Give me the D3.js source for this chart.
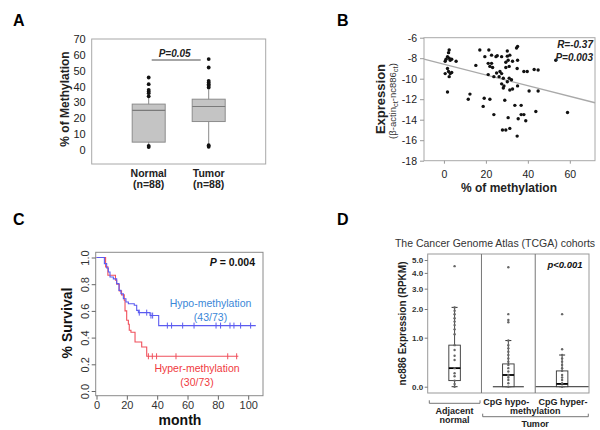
<!DOCTYPE html>
<html>
<head>
<meta charset="utf-8">
<script src="https://cdn.jsdelivr.net/npm/d3@7"></script>
<style>
  body { margin: 0; background: #fff; }
  svg { display: block; font-family: "Liberation Sans", Arial, sans-serif; }
</style>
</head>
<body>
<div id="chart"></div>
<script>
// ---------- data ----------
// A: % methylation boxplots
let groupsA = ['Normal', 'Tumor'];
let nLabelsA = ['(n=88)', '(n=88)'];
let whiskLoA = [3.2, 3.8];
let q1A = [4.9, 17.9];
let medA = [24.9, 27.4];
let q3A = [28.9, 32.0];
let whiskHiA = [33.1, 38.0];
let outliersA = [
  [1.8, 2.6, 33.8, 35.8, 36.9, 37.9, 41.5, 45.7],
  [2.0, 3.0, 39.4, 40.5, 41.5, 42.6, 43.6, 52.0, 57.3]
];
let ticksA = [0, 10, 20, 30, 40, 50, 60, 70];

// B: methylation vs expression
let methylB = [2.5, 2.2, 1.7, 1.0, 2.5, 3.7, 5.8, 0.6, 3.0, 1.7, 2.2, 0.6, 3.0, 3.7, 2.5, 1.7,
  17.1, 21.4, 15.2, 19.5, 22.7, 24.8, 25.4, 27.5, 30.2, 30.2, 31.4, 34.6, 35.1, 30.6, 32.7, 35.1,
  21.1, 22.7, 21.9, 23.2, 29.5, 29.5, 31.1, 26.7, 25.1, 27.5, 21.1, 23.8, 26.3, 28.3, 31.1, 32.2,
  30.2, 27.5, 28.6, 28.3, 31.4, 32.7, 35.1, 38.1, 39.7, 43.0, 44.9, 40.6, 44.9, 34.9, 12.4, 11.6,
  19.2, 21.9, 18.7, 29.0, 33.8, 36.8, 43.8, 23.8, 30.6, 35.4, 36.8, 38.1, 39.0, 27.9, 29.5, 31.4,
  34.9, 53.3, 58.9];
let exprB = [-7.2, -7.46, -7.85, -8.1, -8.0, -8.1, -8.3, -8.3, -8.2, -9.0, -9.3, -9.5, -9.5, -9.4, -9.8, -11.3,
  -7.2, -7.2, -8.7, -7.85, -7.7, -7.85, -7.75, -7.85, -7.3, -7.8, -7.7, -7.0, -6.85, -8.2, -8.3, -8.2,
  -8.5, -8.5, -8.8, -8.9, -8.4, -8.9, -8.8, -9.3, -9.45, -9.5, -9.6, -9.8, -9.8, -9.95, -9.95, -10.1,
  -10.3, -10.5, -10.7, -10.9, -11.1, -11.0, -10.7, -9.3, -9.3, -9.1, -9.15, -11.2, -11.2, -9.0, -11.5, -12.0,
  -11.9, -12.0, -12.7, -12.1, -12.6, -12.6, -13.2, -13.5, -13.8, -13.9, -13.5, -13.5, -14.1, -15.0, -15.0, -14.85,
  -15.6, -8.2, -13.3];
let fitSlopeB = -0.0521;
let fitInterceptB = -8.595;
let xTicksB = [0, 20, 40, 60];
let yTicksB = [-6, -8, -10, -12, -14, -16, -18];

// C: Kaplan-Meier survival
let hypoTimes = [0, 5.2, 6.7, 7.8, 8.9, 11.1, 13.3, 14.8, 16.1, 17.7, 19.4, 21, 24.9, 26.5, 27.6, 35.3, 41];
let hypoSurv = [1, 0.954, 0.921, 0.891, 0.854, 0.84, 0.804, 0.754, 0.729, 0.691, 0.667, 0.654, 0.642, 0.604, 0.587, 0.565, 0.49];
let hypoEnd = 105;
let hypoCensor = [28.2, 33.1, 35.9, 37, 46.7, 49.5, 56.8, 64.3, 78.8, 81.8, 88, 90.6, 95, 101.6];
let hyperTimes = [0, 6, 7.5, 12.5, 13.3, 15, 16.5, 18.3, 18.8, 19.9, 21, 21.6, 22.7, 25.4, 29.8, 33.1];
let hyperSurv = [1, 0.93, 0.867, 0.83, 0.8, 0.75, 0.72, 0.68, 0.6, 0.53, 0.5, 0.455, 0.44, 0.367, 0.33, 0.26];
let hyperEnd = 93.5;
let hyperCensor = [34.2, 36.8, 39.6, 52.4, 86.5, 92.4];
let xTicksC = [0, 20, 40, 60, 80, 100];
let yTicksC = [0, 0.2, 0.4, 0.6, 0.8, 1.0];

// D: TCGA nc886 expression
let groupsD = ['adj', 'hypo', 'hyper'];
let loD = [0, 0, 0];
let q1D = [0.09, 0, 0];
let medD = [0.30, 0.18, 0.04];
let q3D = [0.80, 0.38, 0.25];
let hiD = [2.07, 0.92, 0.565];
let pointsD = [
  [4.5, 2.07, 1.93, 1.79, 1.63, 1.51, 1.39, 1.25, 1.10, 0.80, 0.68, 0.55, 0.46, 0.30, 0.21, 0.16, 0.09, 0.04, 0],
  [4.41, 1.79, 1.57, 1.49, 0.92, 0.80, 0.72, 0.64, 0.565, 0.49, 0.425, 0.36, 0.30, 0.24, 0.18, 0.17, 0.14, 0.10, 0.05, 0],
  [1.79, 0.70, 0.565, 0.49, 0.425, 0.36, 0.30, 0.25, 0.18, 0.14, 0.10, 0.05, 0]
];
let yTicksD = [0, 1, 2, 3, 4, 5];

// ---------- svg ----------
let svg = d3.select('#chart').append('svg')
  .attr('width', 600)
  .attr('height', 430);

svg.append('rect').attr('width', 600).attr('height', 430).attr('fill', '#fff');

function panelLetter(txt, x, y) {
  svg.append('text').attr('x', x).attr('y', y)
    .style('font-size', '16px').style('font-weight', 'bold').text(txt);
}
panelLetter('A', 13, 26);
panelLetter('B', 337, 26);
panelLetter('C', 13, 225);
panelLetter('D', 337, 225);

// ================= Panel A =================
let frameA = {l: 91.7, r: 265.7, t: 39, b: 164};
let xA = d3.scalePoint().domain(groupsA).range([frameA.l, frameA.r]).padding(0.95);
let yA = d3.scaleLinear().domain([-8.9, 70]).range([frameA.b, frameA.t]);

let gA = svg.append('g');
gA.append('rect')
  .attr('x', frameA.l).attr('y', frameA.t)
  .attr('width', frameA.r - frameA.l).attr('height', frameA.b - frameA.t)
  .attr('fill', 'none').attr('stroke', '#a8a8a8').attr('stroke-width', 1);

let yAxisA = gA.append('g')
  .attr('transform', 'translate(' + frameA.l + ',0)')
  .call(d3.axisLeft(yA).tickValues(ticksA).tickSize(0).tickPadding(6));
yAxisA.select('.domain').remove();
yAxisA.selectAll('text').style('font-size', '11px').style('fill', '#222')
  .style('font-family', '"Liberation Sans", Arial, sans-serif');

let boxW = 33;
groupsA.forEach((g, i) => {
  let cx = xA(g);
  // whisker
  gA.append('line').attr('x1', cx).attr('x2', cx)
    .attr('y1', yA(whiskLoA[i])).attr('y2', yA(whiskHiA[i]))
    .attr('stroke', '#8a8a8a').attr('stroke-width', 1);
  gA.append('rect')
    .attr('x', cx - boxW / 2).attr('y', yA(q3A[i]))
    .attr('width', boxW).attr('height', yA(q1A[i]) - yA(q3A[i]))
    .attr('fill', '#c4c4c4').attr('stroke', '#8c8c8c').attr('stroke-width', 1);
  gA.append('line').attr('x1', cx - boxW / 2).attr('x2', cx + boxW / 2)
    .attr('y1', yA(medA[i])).attr('y2', yA(medA[i]))
    .attr('stroke', '#7a7a7a').attr('stroke-width', 1.2);
  gA.selectAll('.outA' + i).data(outliersA[i]).enter().append('circle')
    .attr('cx', cx).attr('cy', d => yA(d)).attr('r', 1.9).attr('fill', '#111');
  gA.append('text').attr('x', cx).attr('y', 177).attr('text-anchor', 'middle')
    .style('font-size', '10.5px').style('font-weight', 'bold').style('fill', '#222').text(g);
  gA.append('text').attr('x', cx).attr('y', 188).attr('text-anchor', 'middle')
    .style('font-size', '10.5px').style('font-weight', 'bold').style('fill', '#222').text(nLabelsA[i]);
});

// significance bar
gA.append('line')
  .attr('x1', xA('Normal') + 3).attr('x2', xA('Tumor') - 8)
  .attr('y1', yA(56.7)).attr('y2', yA(56.7))
  .attr('stroke', '#888').attr('stroke-width', 1.5);
gA.append('text').attr('x', (xA('Normal') + xA('Tumor')) / 2 - 4).attr('y', 56.5)
  .attr('text-anchor', 'middle').style('font-size', '10px').style('font-weight', 'bold')
  .style('font-style', 'italic').style('fill', '#222').text('P=0.05');

gA.append('text')
  .attr('transform', 'translate(69,' + (frameA.t + frameA.b) / 2.05 + ') rotate(-90)')
  .attr('text-anchor', 'middle').style('font-size', '12px').style('font-weight', 'bold')
  .style('fill', '#222').text('% of Methylation');

// ================= Panel B =================
let frameB = {l: 424, r: 595, t: 37.7, b: 160.7};
let xB = d3.scaleLinear().domain([-9.5, 72]).range([frameB.l, frameB.r]);
let yB = d3.scaleLinear().domain([-18, -6]).range([frameB.b, frameB.t]);
let gB = svg.append('g');

gB.append('rect')
  .attr('x', frameB.l).attr('y', frameB.t)
  .attr('width', frameB.r - frameB.l).attr('height', frameB.b - frameB.t)
  .attr('fill', 'none').attr('stroke', '#a8a8a8').attr('stroke-width', 1);

let xAxisB = gB.append('g').attr('transform', 'translate(0,' + frameB.b + ')')
  .call(d3.axisBottom(xB).tickValues(xTicksB).tickSize(3).tickPadding(7));
let yAxisB = gB.append('g').attr('transform', 'translate(' + frameB.l + ',0)')
  .call(d3.axisLeft(yB).tickValues(yTicksB).tickSize(4).tickPadding(3)
    .tickFormat(d => d < 0 ? '-' + Math.abs(d) : d));
[xAxisB, yAxisB].forEach(ax => {
  ax.select('.domain').remove();
  ax.selectAll('line').attr('stroke', '#999');
  ax.selectAll('text').style('font-size', '10.5px').style('fill', '#222')
    .style('font-family', '"Liberation Sans", Arial, sans-serif');
});

gB.append('line')
  .attr('x1', xB(-9.5)).attr('y1', yB(fitInterceptB + fitSlopeB * -9.5))
  .attr('x2', xB(72)).attr('y2', yB(fitInterceptB + fitSlopeB * 72))
  .attr('stroke', '#a9a9a9').attr('stroke-width', 1.3);

gB.selectAll('.ptB').data(methylB).enter().append('circle')
  .attr('cx', d => xB(d)).attr('cy', (d, i) => yB(exprB[i]))
  .attr('r', 1.7).attr('fill', '#111');

gB.append('text').attr('x', 593).attr('y', 48).attr('text-anchor', 'end')
  .style('font-size', '10px').style('font-weight', 'bold').style('font-style', 'italic')
  .style('fill', '#222').text('R=-0.37');
gB.append('text').attr('x', 593).attr('y', 60.5).attr('text-anchor', 'end')
  .style('font-size', '10px').style('font-weight', 'bold').style('font-style', 'italic')
  .style('fill', '#222').text('P=0.003');

gB.append('text').attr('x', 509).attr('y', 192).attr('text-anchor', 'middle')
  .style('font-size', '12px').style('font-weight', 'bold').style('fill', '#222')
  .text('% of methylation');

gB.append('text')
  .attr('transform', 'translate(385,' + 99 + ') rotate(-90)')
  .attr('text-anchor', 'middle').style('font-size', '13px').style('font-weight', 'bold')
  .style('fill', '#222').text('Expression');

let subLbl = gB.append('text')
  .attr('transform', 'translate(395.5,' + 101 + ') rotate(-90)')
  .attr('text-anchor', 'middle').style('font-size', '9.5px').style('fill', '#333');
subLbl.append('tspan').text('(\u03b2-actin');
subLbl.append('tspan').attr('dy', 2.5).style('font-size', '7.5px').text('ct');
subLbl.append('tspan').attr('dy', -2.5).text('-nc886');
subLbl.append('tspan').attr('dy', 2.5).style('font-size', '7.5px').text('ct');
subLbl.append('tspan').attr('dy', -2.5).text(')');

// ================= Panel C =================
let frameC = {l: 95.7, r: 263, t: 252.3, b: 395.7};
let xC = d3.scaleLinear().domain([0, 100]).range([96.5, 248.2]);
let yC = d3.scaleLinear().domain([0, 1]).range([391, 257.5]);
let gC = svg.append('g');

gC.append('rect')
  .attr('x', frameC.l).attr('y', frameC.t)
  .attr('width', frameC.r - frameC.l).attr('height', frameC.b - frameC.t)
  .attr('fill', 'none').attr('stroke', '#8a8a8a').attr('stroke-width', 1);

let xAxisC = gC.append('g').attr('transform', 'translate(0,' + frameC.b + ')')
  .call(d3.axisBottom(xC).tickValues(xTicksC).tickSize(4).tickPadding(2));
let yAxisC = gC.append('g').attr('transform', 'translate(' + frameC.l + ',0)')
  .call(d3.axisLeft(yC).tickValues(yTicksC).tickSize(4).tickFormat(d3.format('.1f')));
[xAxisC, yAxisC].forEach(ax => {
  ax.select('.domain').remove();
  ax.selectAll('line').attr('stroke', '#666');
  ax.selectAll('text').style('font-size', '11px').style('fill', '#333')
    .style('font-family', '"Liberation Sans", Arial, sans-serif');
});
yAxisC.selectAll('text')
  .attr('transform', 'rotate(-90)')
  .attr('x', 0).attr('y', -7).attr('dy', null)
  .attr('text-anchor', 'middle');

function survAt(times, surv, t) {
  let s = surv[0];
  times.forEach((tt, i) => { if (tt <= t) s = surv[i]; });
  return s;
}

let stepLine = d3.line().x(d => xC(d[0])).y(d => yC(d[1])).curve(d3.curveStepAfter);

function drawKM(times, surv, end, censor, color) {
  let pts = times.map((t, i) => [t, surv[i]]);
  pts.push([end, surv[surv.length - 1]]);
  gC.append('path').datum(pts).attr('d', stepLine)
    .attr('fill', 'none').attr('stroke', color).attr('stroke-width', 1.1);
  gC.selectAll(null).data(censor).enter().append('line')
    .attr('x1', d => xC(d)).attr('x2', d => xC(d))
    .attr('y1', d => yC(survAt(times, surv, d)) - 3)
    .attr('y2', d => yC(survAt(times, surv, d)) + 3)
    .attr('stroke', color).attr('stroke-width', 1);
}
drawKM(hyperTimes, hyperSurv, hyperEnd, hyperCensor, '#f0505c');
drawKM(hypoTimes, hypoSurv, hypoEnd, hypoCensor, '#5b5bf0');

let pTxt = gC.append('text').attr('x', 255).attr('y', 265.5).attr('text-anchor', 'end')
  .style('font-size', '10.5px').style('font-weight', 'bold').style('fill', '#111');
pTxt.append('tspan').style('font-style', 'italic').text('P');
pTxt.append('tspan').text(' = 0.004');

gC.append('text').attr('x', 210.5).attr('y', 307).attr('text-anchor', 'middle')
  .style('font-size', '10.5px').style('fill', '#3a87d8').text('Hypo-methylation');
gC.append('text').attr('x', 210.5).attr('y', 320.5).attr('text-anchor', 'middle')
  .style('font-size', '10.5px').style('fill', '#3a87d8').text('(43/73)');
gC.append('text').attr('x', 197).attr('y', 372).attr('text-anchor', 'middle')
  .style('font-size', '10.5px').style('fill', '#f03a40').text('Hyper-methylation');
gC.append('text').attr('x', 197).attr('y', 385.5).attr('text-anchor', 'middle')
  .style('font-size', '10.5px').style('fill', '#f03a40').text('(30/73)');

gC.append('text').attr('x', 180).attr('y', 425).attr('text-anchor', 'middle')
  .style('font-size', '14px').style('font-weight', 'bold').style('fill', '#111').text('month');
gC.append('text')
  .attr('transform', 'translate(72,323) rotate(-90)')
  .attr('text-anchor', 'middle').style('font-size', '14px').style('font-weight', 'bold')
  .style('fill', '#111').text('% Survival');

// ================= Panel D =================
let frameD = {l: 427.7, r: 589, t: 254, b: 393};
let xD = d3.scaleBand().domain(groupsD).range([frameD.l, frameD.r]);
let yD = d3.scaleSymlog().constant(1).domain([0, 5]).range([386.7, 260]);
let gD = svg.append('g');

gD.append('text').attr('x', 495).attr('y', 246.5).attr('text-anchor', 'middle')
  .style('font-size', '10.5px').style('fill', '#333')
  .text('The Cancer Genome Atlas (TCGA) cohorts');

gD.append('rect')
  .attr('x', frameD.l).attr('y', frameD.t)
  .attr('width', frameD.r - frameD.l).attr('height', frameD.b - frameD.t)
  .attr('fill', 'none').attr('stroke', '#999').attr('stroke-width', 1);
groupsD.slice(1).forEach(g => {
  gD.append('line').attr('x1', xD(g)).attr('x2', xD(g))
    .attr('y1', frameD.t).attr('y2', frameD.b)
    .attr('stroke', '#777').attr('stroke-width', 1);
});

let yAxisD = gD.append('g').attr('transform', 'translate(' + frameD.l + ',0)')
  .call(d3.axisLeft(yD).tickValues(yTicksD).tickSize(3).tickPadding(1.5).tickFormat(d3.format('.1f')));
yAxisD.select('.domain').remove();
yAxisD.selectAll('line').attr('stroke', '#777');
yAxisD.selectAll('text').style('font-size', '8px').style('font-weight', 'bold').style('fill', '#333')
  .style('font-family', '"Liberation Sans", Arial, sans-serif');

let zeroHalfW = [0, 15.5, 26.5];
let bwD = 11.5;
groupsD.forEach((g, i) => {
  let cx = xD(g) + xD.bandwidth() / 2;
  if (zeroHalfW[i] > 0) {
    gD.append('line').attr('x1', cx - zeroHalfW[i]).attr('x2', cx + zeroHalfW[i])
      .attr('y1', yD(0)).attr('y2', yD(0)).attr('stroke', '#555').attr('stroke-width', 1.3);
  }
  gD.append('line').attr('x1', cx).attr('x2', cx)
    .attr('y1', yD(loD[i])).attr('y2', yD(hiD[i]))
    .attr('stroke', '#333').attr('stroke-width', 0.9);
  [loD[i], hiD[i]].forEach(v => {
    gD.append('line').attr('x1', cx - 3).attr('x2', cx + 3)
      .attr('y1', yD(v)).attr('y2', yD(v)).attr('stroke', '#333').attr('stroke-width', 1);
  });
  gD.append('rect')
    .attr('x', cx - bwD / 2).attr('y', yD(q3D[i]))
    .attr('width', bwD).attr('height', yD(q1D[i]) - yD(q3D[i]))
    .attr('fill', '#fff').attr('stroke', '#333').attr('stroke-width', 0.9);
  gD.append('line').attr('x1', cx - bwD / 2).attr('x2', cx + bwD / 2)
    .attr('y1', yD(medD[i])).attr('y2', yD(medD[i]))
    .attr('stroke', '#000').attr('stroke-width', 1.8);
  gD.selectAll(null).data(pointsD[i]).enter().append('circle')
    .attr('cx', cx).attr('cy', d => yD(d)).attr('r', 1.2).attr('fill', '#666');
});

gD.append('text').attr('x', 565).attr('y', 267.5).attr('text-anchor', 'middle')
  .style('font-size', '9.5px').style('font-weight', 'bold').style('font-style', 'italic')
  .style('fill', '#111').text('p<0.001');

gD.append('text')
  .attr('transform', 'translate(406,323.5) rotate(-90)')
  .attr('text-anchor', 'middle').style('font-size', '10px').style('font-weight', 'bold')
  .style('fill', '#222').text('nc886 Expression (RPKM)');

// brackets and group labels under D
function bracket(x1, x2, y) {
  gD.append('path')
    .attr('d', 'M' + x1 + ',' + (y - 3) + 'V' + y + 'H' + x2 + 'V' + (y - 3))
    .attr('fill', 'none').attr('stroke', '#666').attr('stroke-width', 0.9);
}
function lbl(txt, x, y) {
  gD.append('text').attr('x', x).attr('y', y).attr('text-anchor', 'middle')
    .style('font-size', '9px').style('font-weight', 'bold').style('fill', '#222').text(txt);
}
let cAdj = xD('adj') + xD.bandwidth() / 2;
let cHypo = xD('hypo') + xD.bandwidth() / 2;
let cHyper = xD('hyper') + xD.bandwidth() / 2;
bracket(429.3, 480, 403.3);
bracket(482.7, 588.3, 416.7);
lbl('Adjacent', cAdj, 414.3);
lbl('normal', cAdj, 423.3);
lbl('CpG hypo-', cHypo - 2, 405);
lbl('CpG hyper-', cHyper + 1, 405);
lbl('methylation', xD('hyper'), 414.3);
lbl('Tumor', xD('hyper'), 426.6);
</script>
</body>
</html>
